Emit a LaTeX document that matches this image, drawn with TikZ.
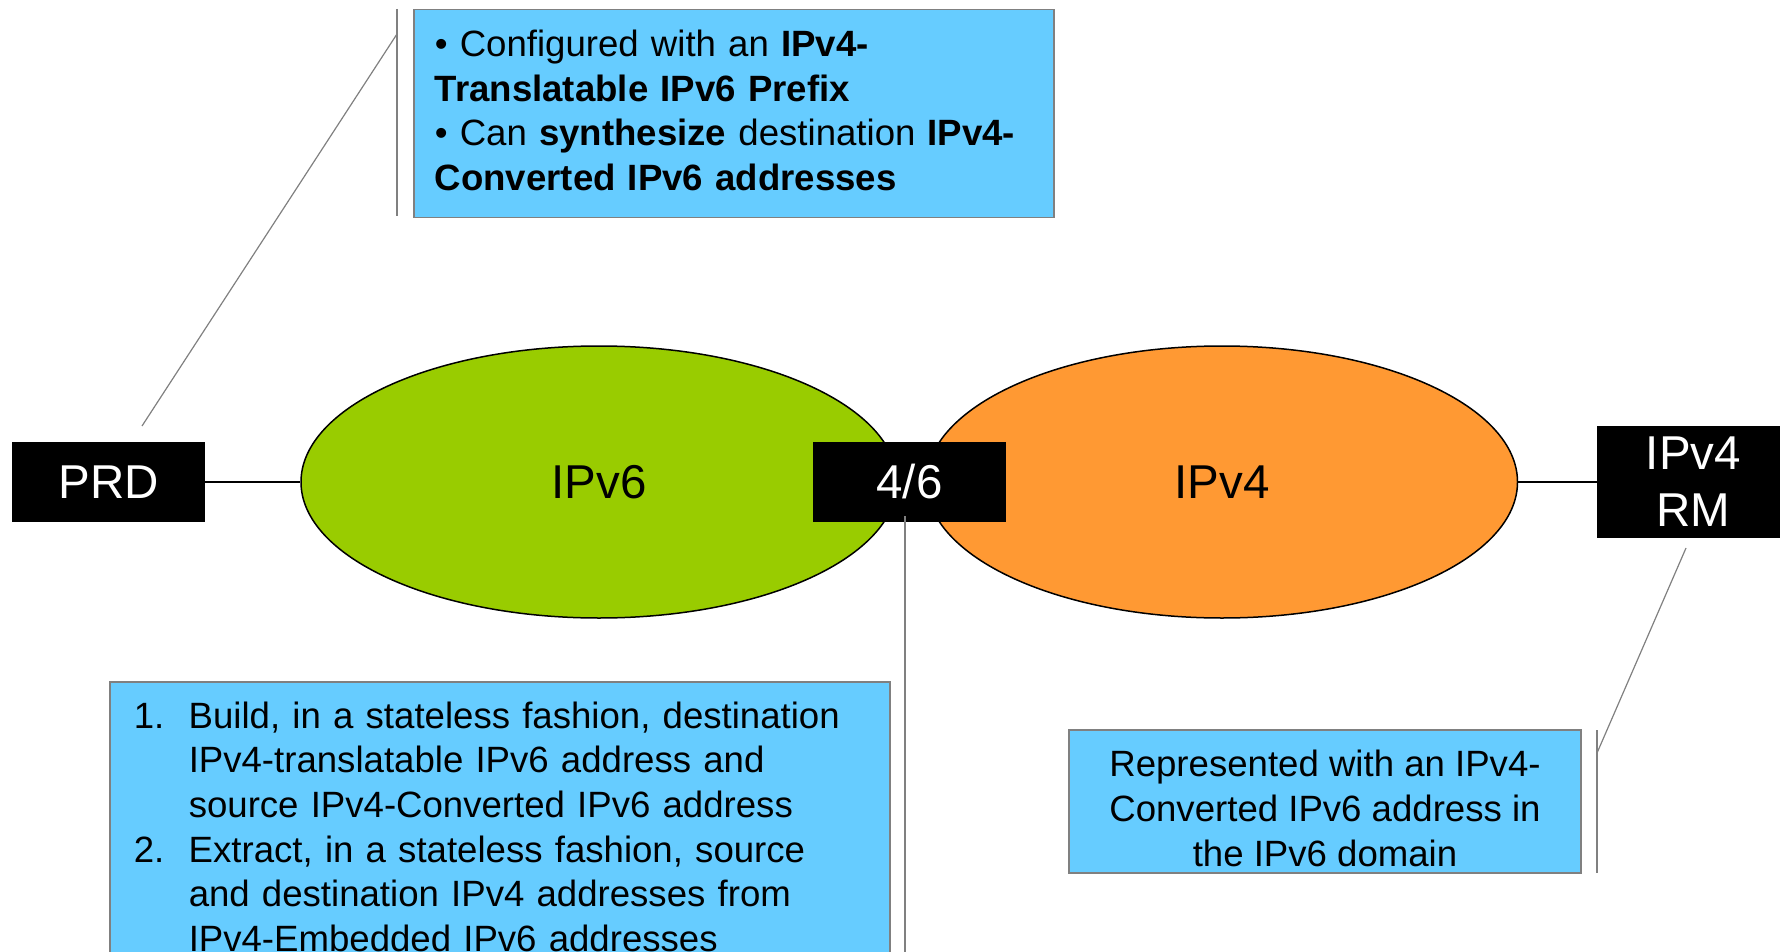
\documentclass[tikz,border=0pt]{standalone}
\usepackage{fontspec}
\setmainfont{Liberation Sans}
\usetikzlibrary{shapes.geometric}
\definecolor{boxblue}{HTML}{66CCFF}
\definecolor{netgreen}{HTML}{99CC00}
\definecolor{netorange}{HTML}{FF9933}
\definecolor{callgray}{HTML}{808080}
\begin{document}
\begin{tikzpicture}[x=1pt,y=-1pt,
  dev/.style={fill=black, text=white, font=\fontsize{47.5}{57}\selectfont, minimum width=193pt, minimum height=80pt, inner sep=0pt, align=center},
  net/.style={ellipse, draw=black, line width=1.5pt, inner sep=0pt, minimum height=272pt, font=\fontsize{47.5}{57}\selectfont},
  note/.style={draw=callgray, line width=1.5pt, fill=boxblue, font=\fontsize{36.6}{44.6}\selectfont},
  link/.style={draw=black, line width=1.5pt},
  callout/.style={draw=callgray, line width=1.2pt}]
\useasboundingbox (0,0) rectangle (1780,952);
\clip (0,0) rectangle (1780,952);

% networks
\node[net, fill=netgreen, minimum width=596pt] (v6) at (599,482) {IPv6};
\node[net, fill=netorange, minimum width=591pt] (v4) at (1222,482) {IPv4};

% devices
\node[dev] (prd) at (108.5,482) {PRD};
\node[dev] (xlat) at (909.5,482) {4/6};
\node[dev, minimum height=112pt] (rm) at (1693.5,482) {IPv4\\RM};

\draw[link] (prd) -- (v6);
\draw[link] (v4) -- (rm);

% callout geometry
\coordinate (tb1) at (397,9);
\coordinate (tb2) at (397,216);
\coordinate (tk) at (397,34);
\coordinate (tp) at (142,426);
\coordinate (sp) at (905,516);
\coordinate (sb) at (905,952);
\coordinate (rb1) at (1597,730);
\coordinate (rb2) at (1597,873);
\coordinate (rk) at (1597,753);
\coordinate (rp) at (1686,548);

\draw[callout] (tb1) -- (tb2);
\draw[callout] (tk) -- (tp);
\draw[callout] (sp) -- (sb);
\draw[callout] (rb1) -- (rb2);
\draw[callout] (rk) -- (rp);

% notes
\node[note, anchor=north west, minimum width=640pt, minimum height=208pt, text width=598pt, inner xsep=21pt, align=left] (topnote) at (413,9)
  {\raisebox{-1pt}[\height][\depth]{\begin{tabular}{@{}l@{}}• Configured with an \textbf{IPv4-}\\\textbf{Translatable IPv6 Prefix}\\• Can \textbf{synthesize} destination \textbf{IPv4-}\\\textbf{Converted IPv6 addresses}\end{tabular}}};

\node[note, anchor=north west, text width=732pt, inner xsep=24pt, inner ysep=20pt, align=left] (steps) at (109,681)
  {\makebox[55pt][l]{1.}Build, in a stateless fashion, destination\\
   \hspace*{55pt}IPv4-translatable IPv6 address and\\
   \hspace*{55pt}source IPv4-Converted IPv6 address\\
   \makebox[55pt][l]{2.}Extract, in a stateless fashion, source\\
   \hspace*{55pt}and destination IPv4 addresses from\\
   \hspace*{55pt}IPv4-Embedded IPv6 addresses};

\node[note, minimum width=512pt, minimum height=143pt] (repr) at (1325,801.5)
  {\raisebox{-11pt}[\height][\depth]{\begin{tabular}{@{}c@{}}Represented with an IPv4-\\Converted IPv6 address in\\the IPv6 domain\end{tabular}}};
\end{tikzpicture}
\end{document}
